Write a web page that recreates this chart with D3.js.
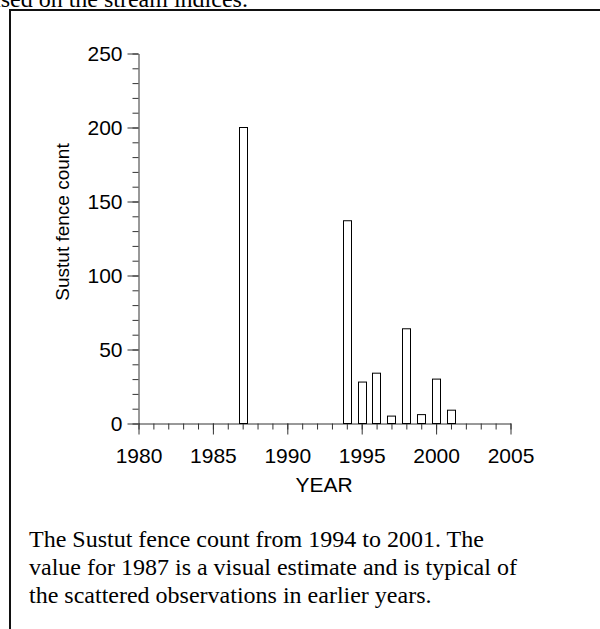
<!DOCTYPE html>
<html lang="en">
<head>
    <meta charset="UTF-8">
    <title>Sustut fence count</title>
    <style>
        body { margin: 0; background: white; }
        svg { display: block; }
        .axis path, .axis line { stroke: #333; }
        .axis text { font-family: Arial, "Liberation Sans", sans-serif; font-size: 21px; fill: black; }
        .caption { font-family: "Times New Roman", "Liberation Serif", serif; font-size: 24px; fill: black; }
    </style>
</head>
<body>
<script src="https://d3js.org/d3.v7.min.js"></script>
<script>
    // data
    var years  = [1987, 1994, 1995, 1996, 1997, 1998, 1999, 2000, 2001];
    var counts = [200, 137, 28, 34, 5, 64, 6, 30, 9];
    var xTicks = [1980, 1985, 1990, 1995, 2000, 2005];
    var yTicks = [0, 50, 100, 150, 200, 250];
    var captionLines = [
        "The Sustut fence count from 1994 to 2001. The",
        "value for 1987 is a visual estimate and is typical of",
        "the scattered observations in earlier years."
    ];

    var W = 600, H = 629;
    var svg = d3.select("body").append("svg")
        .attr("width", W)
        .attr("height", H);

    // leftover line of the page above the figure
    svg.append("text")
        .attr("class", "caption")
        .attr("x", -22)
        .attr("y", 7)
        .text("based on the stream indices.");

    // frame round the figure (runs off the page right and bottom)
    svg.append("path")
        .attr("d", "M10,700 V10 H700")
        .attr("fill", "none")
        .attr("stroke", "#111")
        .attr("stroke-width", 2);

    var x = d3.scaleLinear().domain([1980, 2005]).range([138.5, 510.5]);
    var y = d3.scaleLinear().domain([0, 250]).range([423.5, 53.5]);

    // minor ticks
    svg.append("g")
        .attr("class", "axis")
        .attr("transform", "translate(0,423.5)")
        .call(d3.axisBottom(x).tickValues(d3.range(1980, 2006)).tickSize(6).tickFormat(""))
        .select(".domain").remove();
    svg.append("g")
        .attr("class", "axis")
        .attr("transform", "translate(138.5,0)")
        .call(d3.axisLeft(y).tickValues(d3.range(0, 251, 10)).tickSize(6).tickFormat(""))
        .select(".domain").remove();

    // major ticks + labels
    var gx = svg.append("g")
        .attr("class", "axis")
        .attr("transform", "translate(0,423.5)")
        .call(d3.axisBottom(x).tickValues(xTicks).tickSize(11).tickSizeOuter(0).tickFormat(d3.format("d")));
    gx.selectAll("text").attr("y", 39).attr("dy", null);

    var gy = svg.append("g")
        .attr("class", "axis")
        .attr("transform", "translate(138.5,0)")
        .call(d3.axisLeft(y).tickValues(yTicks).tickSize(11).tickSizeOuter(0).tickPadding(5));

    svg.append("text")
        .attr("x", 324)
        .attr("y", 492)
        .attr("text-anchor", "middle")
        .style("font-family", "Arial, 'Liberation Sans', sans-serif")
        .style("font-size", "21px")
        .text("YEAR");

    svg.append("text")
        .attr("transform", "translate(69,222) rotate(-90)")
        .attr("text-anchor", "middle")
        .style("font-family", "Arial, 'Liberation Sans', sans-serif")
        .style("font-size", "19px")
        .text("Sustut fence count");

    // bars
    var bw = 0.55;
    svg.selectAll(".bar")
        .data(years)
        .enter().append("rect")
        .attr("class", "bar")
        .attr("x", function(d) { return Math.round(x(d - bw / 2)) + 0.5; })
        .attr("width", function(d) { return Math.round(x(d + bw / 2) - x(d - bw / 2)); })
        .attr("y", function(d, i) { return y(counts[i]); })
        .attr("height", function(d, i) { return y(0) - y(counts[i]); })
        .attr("fill", "white")
        .attr("stroke", "black")
        .attr("stroke-width", 1);

    svg.selectAll(".cap")
        .data(captionLines)
        .enter().append("text")
        .attr("class", "caption")
        .attr("x", 29)
        .attr("y", function(d, i) { return 547 + i * 28; })
        .text(function(d) { return d; });
</script>
</body>
</html>
